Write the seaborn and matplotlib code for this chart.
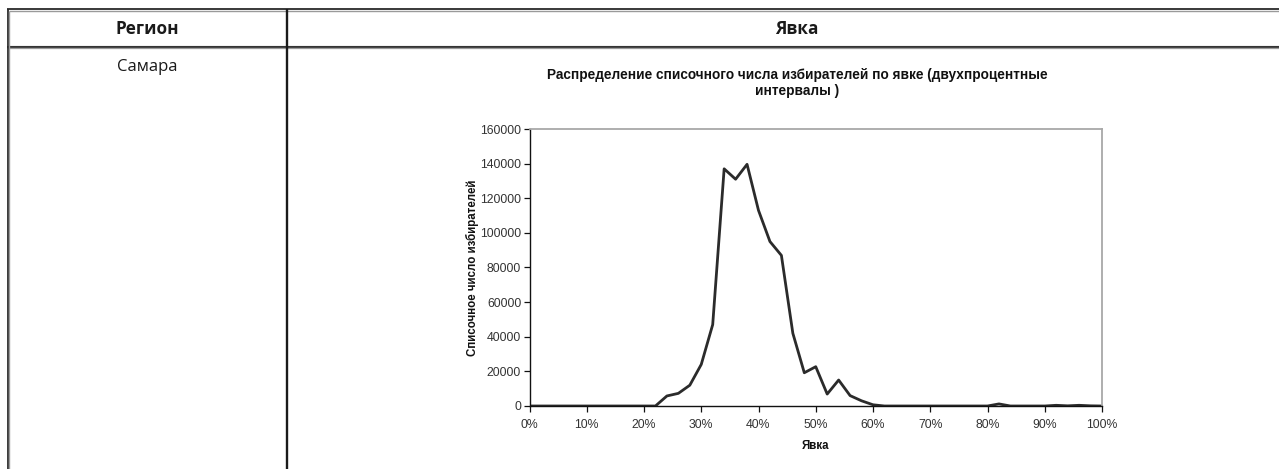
import matplotlib
matplotlib.use("Agg")
import matplotlib.pyplot as plt
from matplotlib.lines import Line2D
from matplotlib.ticker import FuncFormatter, MultipleLocator
import numpy as np
import pandas as pd
import seaborn as sns

# ---- data ----
header_left = "Регион"
header_right = "Явка"
region = "Самара"
chart_title = "Распределение списочного числа избирателей по явке (двухпроцентные\nинтервалы )"
x_label = "Явка"
y_label = "Списочное число избирателей"

turnout = list(range(0, 101, 2))
voters = [0, 0, 0, 0, 0, 0, 0, 0, 0, 0, 0, 0,          # 0..22
          5800, 7300, 12000, 24000, 47000, 137000,       # 24..34
          131000, 139600, 113000, 95000, 87000, 42000,   # 36..46
          19200, 22700, 6900, 15000, 6000, 3000, 700,    # 48..60
          0, 0, 0, 0, 0, 0, 0, 0, 0, 0,                  # 62..80
          1200, 0, 0, 0, 0,                              # 82..90
          400, 100, 400, 100, 0]                         # 92..100

df = pd.DataFrame({"turnout": turnout, "voters": voters})

sns.set_style("white")
W, H = 1279, 469
fig = plt.figure(figsize=(W / 100, H / 100), dpi=100)

def fx(px):
    return px / W

def fy(py):
    return 1 - py / H

def hline(y, x0, x1, color, lw):
    fig.add_artist(Line2D([fx(x0), fx(x1)], [fy(y), fy(y)], color=color, lw=lw,
                          transform=fig.transFigure, solid_capstyle="butt"))

def vline(x, y0, y1, color, lw):
    fig.add_artist(Line2D([fx(x), fx(x)], [fy(y0), fy(y1)], color=color, lw=lw,
                          transform=fig.transFigure, solid_capstyle="butt"))

# table borders
hline(9.5, 7, W, "#2a2a2a", 1.3)
hline(11.3, 9, W, "#9a9a9a", 1.0)
hline(45.6, 7, W, "#9a9a9a", 0.9)
hline(46.8, 7, W, "#2a2a2a", 1.3)
hline(48.2, 7, W, "#9a9a9a", 0.9)
vline(7.5, 9, H, "#2a2a2a", 1.3)
vline(9.3, 11, H, "#9a9a9a", 1.0)
vline(287, 9.5, H, "#1a1a1a", 1.7)

tf = ["Open Sans", "DejaVu Sans"]
fig.text(fx(147), fy(29), header_left, ha="center", va="center", fontsize=12.3,
         fontweight="bold", family=tf, color="#1a1a1a")
fig.text(fx(797), fy(29), header_right, ha="center", va="center", fontsize=12.3,
         fontweight="bold", family=tf, color="#1a1a1a")
fig.text(fx(147), fy(67), region, ha="center", va="center", fontsize=12,
         family=tf, color="#1a1a1a")

cf = ["Liberation Sans", "DejaVu Sans"]
fig.text(fx(797), fy(83), chart_title, ha="center", va="center", fontsize=9.8,
         fontweight="bold", family=cf, color="#111111", linespacing=1.2)

# ---- chart ----
x0, x1, y0, y1 = 529.5, 1102, 129, 406
ax = fig.add_axes([fx(x0), fy(y1), (x1 - x0) / W, (y1 - y0) / H])
sns.lineplot(data=df, x="turnout", y="voters", ax=ax, color="#2b2b2b", lw=2.0,
             solid_joinstyle="round", solid_capstyle="round")
ax.set_xlim(0, 100)
ax.set_ylim(0, 160000)
ax.xaxis.set_major_locator(MultipleLocator(10))
ax.yaxis.set_major_locator(MultipleLocator(20000))
ax.xaxis.set_major_formatter(FuncFormatter(lambda v, p: f"{int(round(v))}%"))
ax.yaxis.set_major_formatter(FuncFormatter(lambda v, p: f"{int(round(v))}"))
for s in ["left", "bottom"]:
    ax.spines[s].set_color("#111111")
    ax.spines[s].set_linewidth(1.0)
for s in ["top", "right"]:
    ax.spines[s].set_color("#a8a8a8")
    ax.spines[s].set_linewidth(1.3)
ax.tick_params(axis="both", which="major", direction="out", length=4, width=0.9,
               color="#111111", labelsize=8.8, labelcolor="#333333", pad=2)
ax.tick_params(axis="x", pad=5)
ax.tick_params(bottom=True, left=True)
for lab in ax.get_xticklabels() + ax.get_yticklabels():
    lab.set_family(cf)
ax.set_xlabel(x_label, fontsize=8.3, fontweight="bold", family=cf, labelpad=7, color="#111111")
ax.set_ylabel(y_label, fontsize=8.3, fontweight="bold", family=cf, labelpad=1, color="#111111")
ax.grid(False)

fig.savefig("out.png", dpi=100)
